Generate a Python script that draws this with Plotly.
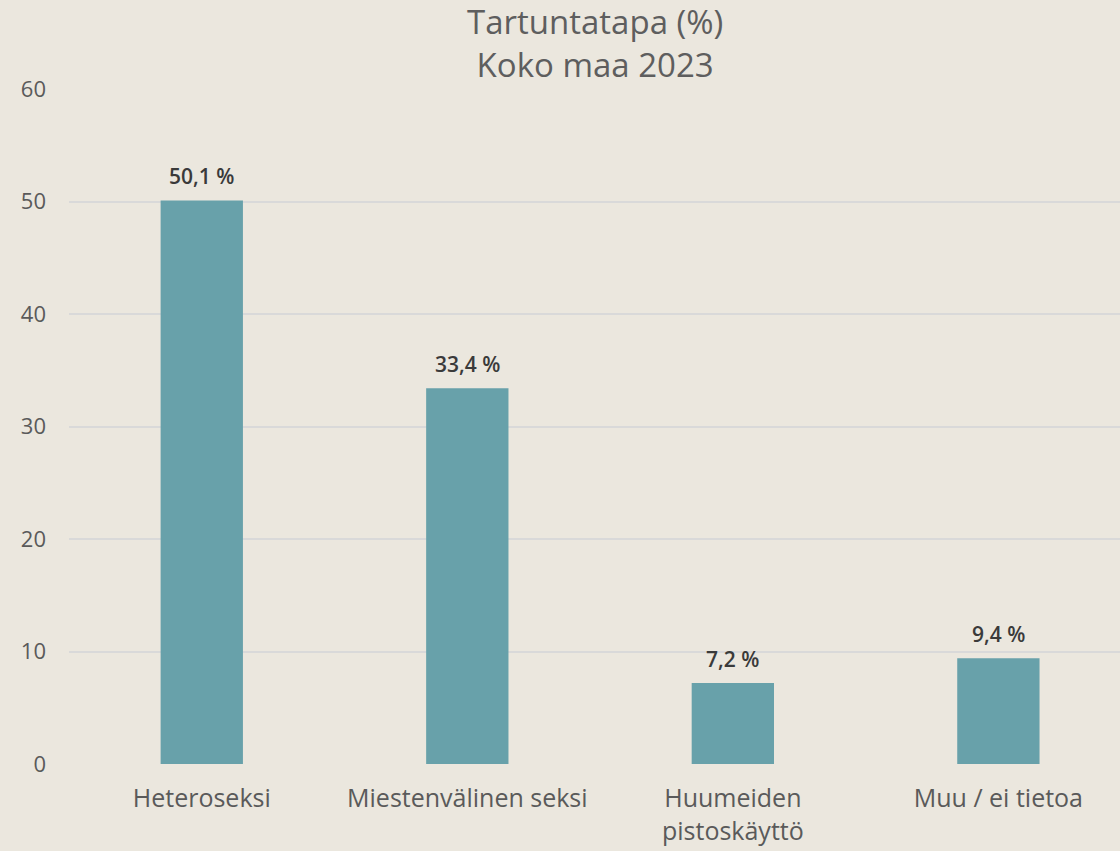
import plotly.graph_objects as go

categories = ["Heteroseksi", "Miestenvälinen seksi", "Huumeiden<br>pistoskäyttö", "Muu / ei tietoa"]
values = [50.1, 33.4, 7.2, 9.4]
value_labels = ["50,1 %", "33,4 %", "7,2 %", "9,4 %"]
y_ticks = [0, 10, 20, 30, 40, 50, 60]

BG = "#EBE7DE"
FONT = "Open Sans, Roboto, sans-serif"

fig = go.Figure()
fig.add_trace(go.Bar(
    x=categories, y=values, width=0.31,
    marker=dict(color="#68A1AA", line=dict(width=0)),
    hoverinfo="skip",
))
for c, v, t in zip(categories, values, value_labels):
    fig.add_annotation(x=c, y=v, text=t, showarrow=False, yanchor="middle", yshift=24,
                       font=dict(family=FONT, size=21, color="#3A3A3A", weight=600))
fig.add_annotation(text="Tartuntatapa (%)<br>Koko maa 2023", x=0.5, xref="paper",
                   y=1.068, yref="paper", xanchor="center", yanchor="middle",
                   showarrow=False, font=dict(family=FONT, size=33, color="#5E5E5E"))
fig.update_layout(
    width=1120, height=851,
    paper_bgcolor=BG, plot_bgcolor=BG,
    margin=dict(l=69, r=0, t=89, b=87),
    showlegend=False,
    xaxis=dict(range=[-0.5, 3.458], showgrid=False, zeroline=False, showline=False,
               ticks="", ticklabelstandoff=17,
               tickfont=dict(family=FONT, size=25, color="#5A5A5A")),
    yaxis=dict(range=[0, 60], tickvals=y_ticks, showgrid=True, gridcolor="#D9D9D9",
               gridwidth=1.5, zeroline=False, showline=False, ticks="",
               ticklabelstandoff=22,
               tickfont=dict(family=FONT, size=22, color="#5A5A5A")),
)
fig.write_html("out.html", config={"displayModeBar": False},
               post_script="document.body.style.margin='0';document.body.style.overflow='hidden';document.body.style.background='" + BG + "';")
